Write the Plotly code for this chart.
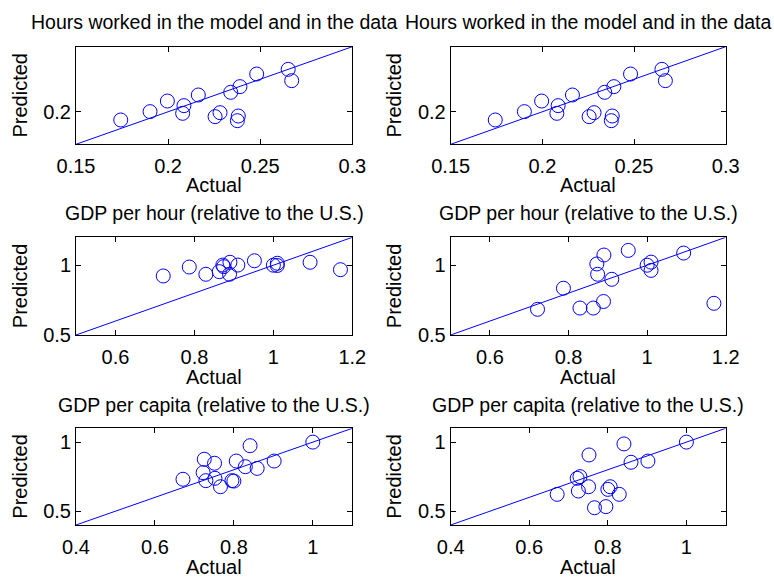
import plotly.graph_objects as go

# ---------------- data ----------------
hours_actual = [0.1743, 0.1902, 0.1996, 0.2086, 0.2079, 0.2164, 0.2255, 0.2282,
                0.2340, 0.2390, 0.2381, 0.2376, 0.2481, 0.2652, 0.2671]
hours_pred_left = [0.1874, 0.2002, 0.2165, 0.2094, 0.1976, 0.2258, 0.1925, 0.1986,
                   0.2299, 0.2386, 0.1935, 0.1863, 0.2580, 0.2652, 0.2478]
hours_pred_right = [0.1874, 0.2002, 0.2165, 0.2094, 0.1976, 0.2258, 0.1925, 0.1986,
                    0.2299, 0.2386, 0.1935, 0.1863, 0.2580, 0.2652, 0.2478]

gdph_actual = [0.721, 0.787, 0.829, 0.863, 0.872, 0.874, 0.889, 0.890,
               0.910, 0.952, 1.000, 1.010, 1.010, 1.093, 1.170]
gdph_pred_left = [0.923, 0.987, 0.935, 0.954, 1.001, 0.990, 0.935, 1.021,
                  1.001, 1.032, 1.000, 1.014, 0.998, 1.021, 0.968]
gdph_pred_right = [0.684, 0.835, 0.693, 0.693, 1.009, 0.935, 0.740, 1.073,
                   0.899, 1.106, 1.000, 1.022, 0.963, 1.087, 0.727]

gdpc_actual = [0.671, 0.722, 0.725, 0.729, 0.751, 0.752, 0.766, 0.795,
               0.800, 0.806, 0.829, 0.841, 0.859, 0.902, 1.000]
gdpc_pred_left = [0.731, 0.779, 0.876, 0.721, 0.847, 0.738, 0.677, 0.721,
                  0.718, 0.863, 0.822, 0.974, 0.810, 0.863, 1.000]
gdpc_pred_right = [0.622, 0.738, 0.646, 0.750, 0.677, 0.907, 0.525, 0.533,
                   0.658, 0.677, 0.622, 0.987, 0.854, 0.863, 1.000]

hours_range = [0.15, 0.3]
gdph_range = [0.5, 1.2]
gdpc_range = [0.4, 1.1]

hours_xticks = [0.15, 0.2, 0.25, 0.3]
hours_yticks = [0.2]
gdph_xticks = [0.6, 0.8, 1.0, 1.2]
gdph_yticks = [0.5, 1.0]
gdpc_xticks = [0.4, 0.6, 0.8, 1.0]
gdpc_yticks = [0.5, 1.0]

titles = ["Hours worked in the model and in the data",
          "GDP per hour (relative to the U.S.)",
          "GDP per capita (relative to the U.S.)"]

# ---------------- layout geometry (pixels) ----------------
W, H = 774, 577
col_px = [(76, 352.3), (450.7, 725.7)]
row_px = [(46.7, 144.3), (237.3, 335.0), (428.3, 525.0)]
title_y_px = [22, 213, 405]
xlabel_y_px = [185, 377, 567]
ylabel_x_px = [20, 394]

BLUE = "#0000FF"
FONT = "Liberation Sans, Arial, Helvetica, sans-serif"
FS_TITLE = 19.5
FS = 20

panels = [
    (hours_actual, hours_pred_left, hours_range, hours_xticks, hours_yticks),
    (hours_actual, hours_pred_right, hours_range, hours_xticks, hours_yticks),
    (gdph_actual, gdph_pred_left, gdph_range, gdph_xticks, gdph_yticks),
    (gdph_actual, gdph_pred_right, gdph_range, gdph_xticks, gdph_yticks),
    (gdpc_actual, gdpc_pred_left, gdpc_range, gdpc_xticks, gdpc_yticks),
    (gdpc_actual, gdpc_pred_right, gdpc_range, gdpc_xticks, gdpc_yticks),
]

fig = go.Figure()
layout = dict(
    template="none",
    width=W, height=H,
    margin=dict(l=0, r=0, t=0, b=0, pad=0),
    paper_bgcolor="white", plot_bgcolor="white",
    showlegend=False,
    font=dict(family=FONT, size=FS, color="black"),
)

annotations = []

for i, (xs, ys, rng, xt, yt) in enumerate(panels):
    r, c = divmod(i, 2)
    n = "" if i == 0 else str(i + 1)
    xa, ya = "x" + n, "y" + n
    # diagonal 45-degree line spanning the axis range
    fig.add_trace(go.Scatter(x=rng, y=rng, mode="lines", xaxis=xa, yaxis=ya,
                             line=dict(color=BLUE, width=1), hoverinfo="skip"))
    fig.add_trace(go.Scatter(x=xs, y=ys, mode="markers", xaxis=xa, yaxis=ya,
                             marker=dict(symbol="circle-open", size=14,
                                         color=BLUE, line=dict(width=1, color=BLUE))))
    x0, x1 = col_px[c]
    y0, y1 = row_px[r]
    common = dict(showgrid=False, zeroline=False, showline=True, linecolor="black",
                  linewidth=1, mirror="ticks", ticks="inside", ticklen=5,
                  tickcolor="black", tickwidth=1, automargin=False,
                  tickfont=dict(family=FONT, size=FS, color="black"))
    layout["xaxis" + n] = dict(domain=[x0 / W, x1 / W], range=rng, anchor=ya,
                               tickvals=xt, ticktext=[f"{v:g}" for v in xt],
                               ticklabelstandoff=4, **common)
    layout["yaxis" + n] = dict(domain=[1 - y1 / H, 1 - y0 / H], range=rng, anchor=xa,
                               tickvals=yt, ticktext=[f"{v:g}" for v in yt],
                               ticklabelstandoff=0, **common)
    xc = (x0 + x1) / 2 / W
    annotations.append(dict(text=titles[r], x=xc, y=1 - title_y_px[r] / H,
                            xref="paper", yref="paper", showarrow=False,
                            xanchor="center", yanchor="middle",
                            font=dict(family=FONT, size=FS_TITLE, color="black")))
    annotations.append(dict(text="Actual", x=xc, y=1 - xlabel_y_px[r] / H,
                            xref="paper", yref="paper", showarrow=False,
                            xanchor="center", yanchor="middle",
                            font=dict(family=FONT, size=FS, color="black")))
    annotations.append(dict(text="Predicted", x=ylabel_x_px[c] / W,
                            y=1 - (y0 + y1) / 2 / H, textangle=-90,
                            xref="paper", yref="paper", showarrow=False,
                            xanchor="center", yanchor="middle",
                            font=dict(family=FONT, size=FS, color="black")))

layout["annotations"] = annotations
fig.update_layout(**layout)
fig.write_html("out.html")
